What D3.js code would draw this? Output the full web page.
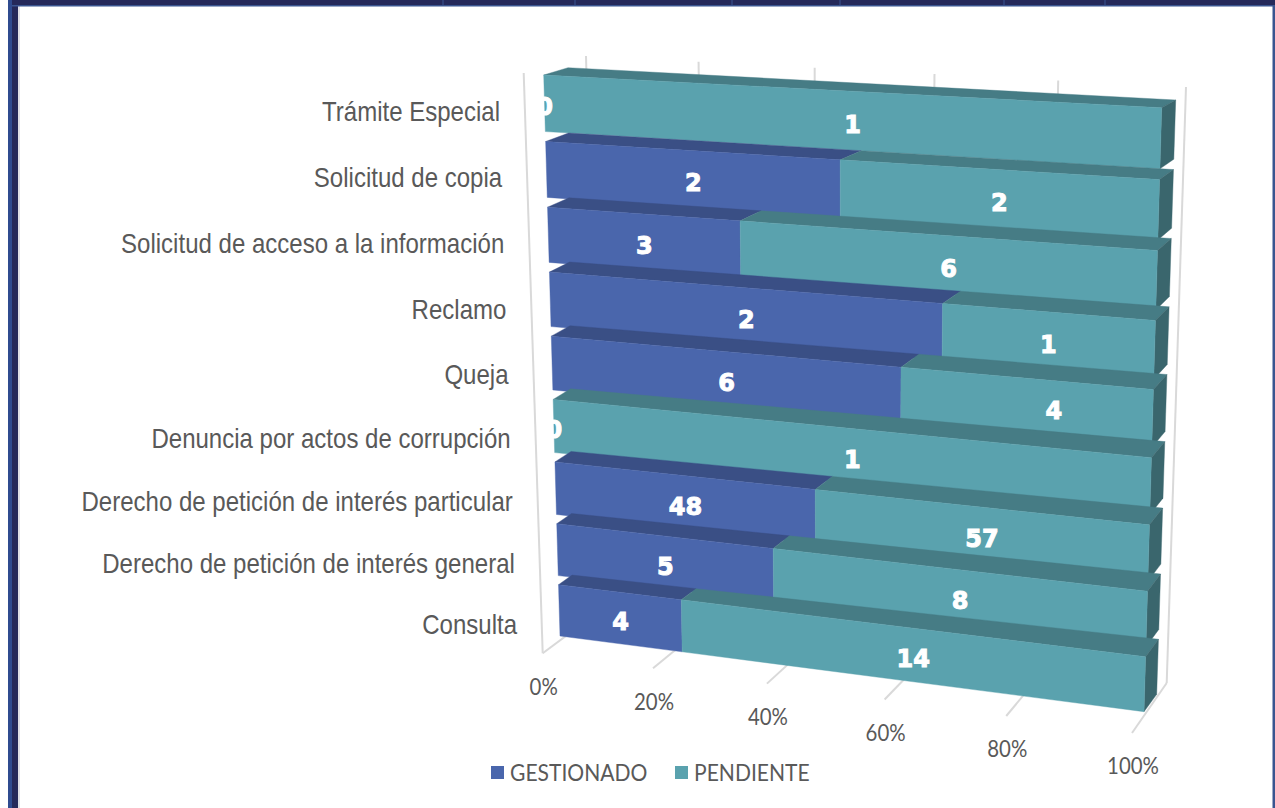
<!DOCTYPE html>
<html lang="es">
<head>
<meta charset="utf-8">
<title>Estado de solicitudes</title>
<script src="https://cdn.jsdelivr.net/npm/d3@7"></script>
<style>
html,body{margin:0;padding:0;background:#fff;overflow:hidden}
svg{display:block}
</style>
</head>
<body>
<svg id="chart" width="1275" height="808"></svg>
<script>
// ---- data (top to bottom, as shown) ----
const categories = ["Trámite Especial","Solicitud de copia","Solicitud de acceso a la información","Reclamo","Queja","Denuncia por actos de corrupción","Derecho de petición de interés particular","Derecho de petición de interés general","Consulta"];
const gestionado = [0,2,3,2,6,0,48,5,4];
const pendiente  = [1,2,6,1,4,1,57,8,14];
const seriesNames = ["GESTIONADO","PENDIENTE"];
const tickValues = [0,0.2,0.4,0.6,0.8,1];

// ---- styling ----
const colors = {
  GESTIONADO:{front:"#4a66ac",top:"#3a4f85",side:"#2f4270"},
  PENDIENTE:{front:"#5aa2ae",top:"#467c85",side:"#3a666d"}
};
const axisColor="#595959", gridColor="#d9d9d9";

// ---- projection quads (image of the 3D plot box): TL, TR, BR, BL ----
function homography(q){
  const [p0,p1,p2,p3]=q;
  const dx1=p1[0]-p2[0],dx2=p3[0]-p2[0],sx=p0[0]-p1[0]+p2[0]-p3[0];
  const dy1=p1[1]-p2[1],dy2=p3[1]-p2[1],sy=p0[1]-p1[1]+p2[1]-p3[1];
  const det=dx1*dy2-dx2*dy1;
  const g=(sx*dy2-dx2*sy)/det,h=(dx1*sy-sx*dy1)/det;
  const a=p1[0]-p0[0]+g*p1[0],b=p3[0]-p0[0]+h*p3[0],c=p0[0];
  const d=p1[1]-p0[1]+g*p1[1],e=p3[1]-p0[1]+h*p3[1],f=p0[1];
  return (u,v)=>{const w=g*u+h*v+1;return [(a*u+b*v+c)/w,(d*u+e*v+f)/w];};
}
const barFront =homography([[543.7,75],[1161.7,107.7],[1144,711.7],[560,636]]);
const barBack  =homography([[568,67.7],[1175.7,100],[1156.7,694.3],[572.5,627]]);
const backWall =homography([[586,56],[1186,87],[1166.7,683],[600,610.6]]);
const frontWall=homography([[523.7,73],[1147,105],[1132,733],[542.7,653.3]]);

const x=d3.scaleLinear().domain([0,1]).range([0,1]);
const band=d3.scaleBand().domain(categories).range([0,1]).paddingInner(0.15);
const labelY=d3.scaleLinear().domain([0,2,4,6,8]).range([112,244,375,502,625]);
const labelX=d3.scaleLinear().domain([0,8]).range([500,517]);
const pct=d3.format(".0%");

const svg=d3.select("#chart");
const line=d3.line();

// ---- page frame ----
const frame=svg.append("g");
frame.append("rect").attr("x",8).attr("y",0).attr("width",4).attr("height",808).attr("fill","#2f4b8f");
frame.append("rect").attr("x",12).attr("y",0).attr("width",6).attr("height",808).attr("fill","#25295a");
frame.append("rect").attr("x",18).attr("y",6).attr("width",2).attr("height",802).attr("fill","#dfe0e6");
frame.append("rect").attr("x",12).attr("y",0).attr("width",1263).attr("height",5).attr("fill","#25295a");
frame.append("rect").attr("x",12).attr("y",5).attr("width",1263).attr("height",1.5).attr("fill","#3a5590");
frame.append("rect").attr("x",1272.5).attr("y",6).attr("width",2.5).attr("height",802).attr("fill","#3a5590");
frame.selectAll("line.div").data([443,575,732,840,1004,1105]).join("line")
  .attr("x1",d=>d).attr("x2",d=>d).attr("y1",0).attr("y2",5)
  .attr("stroke","#3a5590").attr("stroke-width",1);

// ---- walls and floor ----
const grid=svg.append("g").attr("fill","none").attr("stroke",gridColor).attr("stroke-width",2);
grid.selectAll("path.back").data(tickValues).join("path")
  .attr("d",t=>line([backWall(x(t),0),backWall(x(t),1)]));
const floorG=svg.append("g").attr("fill","none").attr("stroke",gridColor).attr("stroke-width",2);
floorG.selectAll("path").data(tickValues).join("path")
  .attr("d",t=>line([backWall(x(t),1),frontWall(x(t),1)]));
floorG.append("path").attr("d",line([frontWall(x(0),0),frontWall(x(0),1)]));

// ---- bars ----
const rows=categories.map((c,i)=>{
  const total=gestionado[i]+pendiente[i];
  return {c,i,segs:[
    {name:seriesNames[0],value:gestionado[i],u0:0,u1:gestionado[i]/total},
    {name:seriesNames[1],value:pendiente[i],u0:gestionado[i]/total,u1:1}
  ]};
});
const poly=pts=>line(pts)+"Z";
const rowG=svg.append("g").selectAll("g").data(rows).join("g");
rowG.each(function(r){
  const g=d3.select(this);
  const v0=band(r.c),v1=v0+band.bandwidth();
  r.segs.filter(s=>s.value>0).forEach(s=>{
    const a=x(s.u0),b=x(s.u1),col=colors[s.name];
    g.append("path").attr("fill",col.top).attr("stroke",col.top).attr("stroke-width",0.4)
      .attr("d",poly([barFront(a,v0),barFront(b,v0),barBack(b,v0),barBack(a,v0)]));
    if(s.u1===1) g.append("path").attr("fill",col.side).attr("stroke",col.side).attr("stroke-width",0.4)
      .attr("d",poly([barFront(b,v0),barBack(b,v0),barBack(b,v1),barFront(b,v1)]));
    g.append("path").attr("fill",col.front).attr("stroke",col.front).attr("stroke-width",0.4)
      .attr("d",poly([barFront(a,v0),barFront(b,v0),barFront(b,v1),barFront(a,v1)]));
  });
});

// ---- data labels ----
const dl=svg.append("g").attr("font-family","'DejaVu Sans',sans-serif").attr("font-weight",700)
  .attr("font-size",24).attr("fill","#fff").attr("stroke","#fff").attr("stroke-width",1)
  .attr("text-anchor","middle");
rows.forEach(r=>{
  const v0=band(r.c),v1=v0+band.bandwidth();
  r.segs.forEach(s=>{
    const cs=[barFront(x(s.u0),v0),barFront(x(s.u1),v0),barFront(x(s.u1),v1),barFront(x(s.u0),v1)];
    const px=d3.mean(cs,c=>c[0]),py=d3.mean(cs,c=>c[1]);
    // the reference's Queja / PENDIENTE label sits right of its segment's centre
    const nudge=(r.c==="Queja"&&s.name==="PENDIENTE")?27:0;
    dl.append("text").attr("x",px+nudge).attr("y",py+3.5).attr("dy","0.36em").text(s.value);
  });
});

// ---- category labels ----
const catScale=0.89;
svg.append("g").attr("font-family","'Liberation Sans',Arial,sans-serif").attr("font-size",27)
  .attr("fill",axisColor).attr("text-anchor","end")
  .selectAll("text").data(categories).join("text")
  .attr("transform",(d,i)=>`translate(${labelX(i)},${labelY(i)}) scale(${catScale},1)`)
  .attr("dy","0.35em").text(d=>d);

// ---- value axis labels ----
svg.append("g").attr("font-family","Lato,sans-serif").attr("font-size",24)
  .attr("fill",axisColor).attr("text-anchor","middle")
  .selectAll("text").data(tickValues).join("text")
  .attr("transform",t=>{const p=frontWall(x(t),1);return `translate(${p[0]+1},${p[1]+33}) scale(0.85,1)`;})
  .attr("dy","0.35em").text(t=>pct(t));

// ---- legend ----
const legendX=[491,675];
const leg=svg.append("g").selectAll("g").data(seriesNames).join("g")
  .attr("transform",(d,i)=>`translate(${legendX[i]},766)`);
leg.append("rect").attr("width",13).attr("height",13).attr("fill",d=>colors[d].front);
leg.append("text").attr("transform","translate(19,15) scale(0.878,1)").attr("font-family","Lato,sans-serif")
  .attr("font-size",24).attr("fill",axisColor).text(d=>d);
</script>
</body>
</html>
